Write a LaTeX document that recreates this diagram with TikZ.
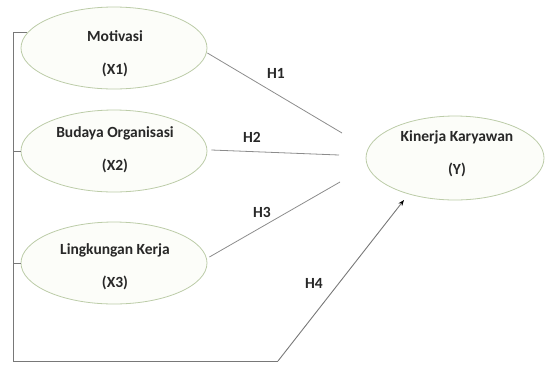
\documentclass[tikz,border=0pt]{standalone}
\usepackage{fontspec}
\setmainfont{Carlito}
\usepackage{tikz}
\usetikzlibrary{arrows.meta, shapes.geometric}
\definecolor{ovalline}{RGB}{188, 204, 168}
\definecolor{ovalfill}{RGB}{252, 253, 249}
\definecolor{linkgray}{RGB}{140, 140, 140}
\definecolor{framegray}{RGB}{120, 120, 120}
\definecolor{textgray}{RGB}{40, 40, 40}

\begin{document}
\begin{tikzpicture}[x=1pt, y=-1pt,
    variabel/.style={ellipse, draw=ovalline, fill=ovalfill, line width=0.8pt,
        minimum width=186pt, minimum height=82pt, inner sep=0pt},
    teks/.style={align=center, text=textgray, font=\fontsize{15.5}{33}\selectfont\bfseries},
    hipotesis/.style={text=textgray, font=\fontsize{15.5}{18}\selectfont\bfseries},
    jalur/.style={linkgray, line width=0.8pt}]
        \useasboundingbox (0,0) rectangle (545,365);

        % variabel bebas
        \node[variabel] (x1) at (114, 48) {};
        \node[variabel] (x2) at (114, 151) {};
        \node[variabel] (x3) at (114, 263) {};
        \node[teks] (t1) at (115, 54) {Motivasi\\(X1)};
        \node[teks] (t2) at (115, 150) {Budaya Organisasi\\(X2)};
        \node[teks] (t3) at (115, 267) {Lingkungan Kerja\\(X3)};

        % variabel terikat
        \node[variabel, minimum width=178pt, minimum height=84pt] (y) at (455, 158) {};
        \node[teks] (ty) at (457, 154) {Kinerja Karyawan\\(Y)};

        % ujung garis yang tidak menyentuh Y
        \coordinate (u1) at (342, 133);
        \coordinate (u2) at (339, 155);
        \coordinate (u3) at (340, 182);
        \coordinate (u4) at (404, 200);

        % H1 - H3
        \draw[jalur] (x1.east) ++(0,5) -- (u1);
        \draw[jalur] (x2.east) ++(4,-1) -- (u2);
        \draw[jalur] (x3.east) ++(2,-6) -- (u3);
        \node[hipotesis] (h1) at (276, 73) {H1};
        \node[hipotesis] (h2) at (252, 137) {H2};
        \node[hipotesis] (h3) at (262, 212) {H3};

        % H4: garis simultan
        \def\kiri{13}
        \def\bawah{361}
        \coordinate (bl) at (\kiri, \bawah);
        \coordinate (br) at (278, \bawah);
        \draw[framegray, line width=0.9pt] (x1.170) -- (x1.170 -| bl) -- (bl) -- (br);
        \draw[framegray, line width=0.9pt] (x2.west) -- (x2.west -| bl);
        \draw[framegray, line width=0.9pt] (x3.west) -- (x3.west -| bl);
        \draw[framegray, line width=0.9pt, -{Stealth[black, length=6pt, width=4.5pt]}] (br) -- (u4);
        \node[hipotesis] (h4) at (314, 283) {H4};
    \end{tikzpicture}
\end{document}
